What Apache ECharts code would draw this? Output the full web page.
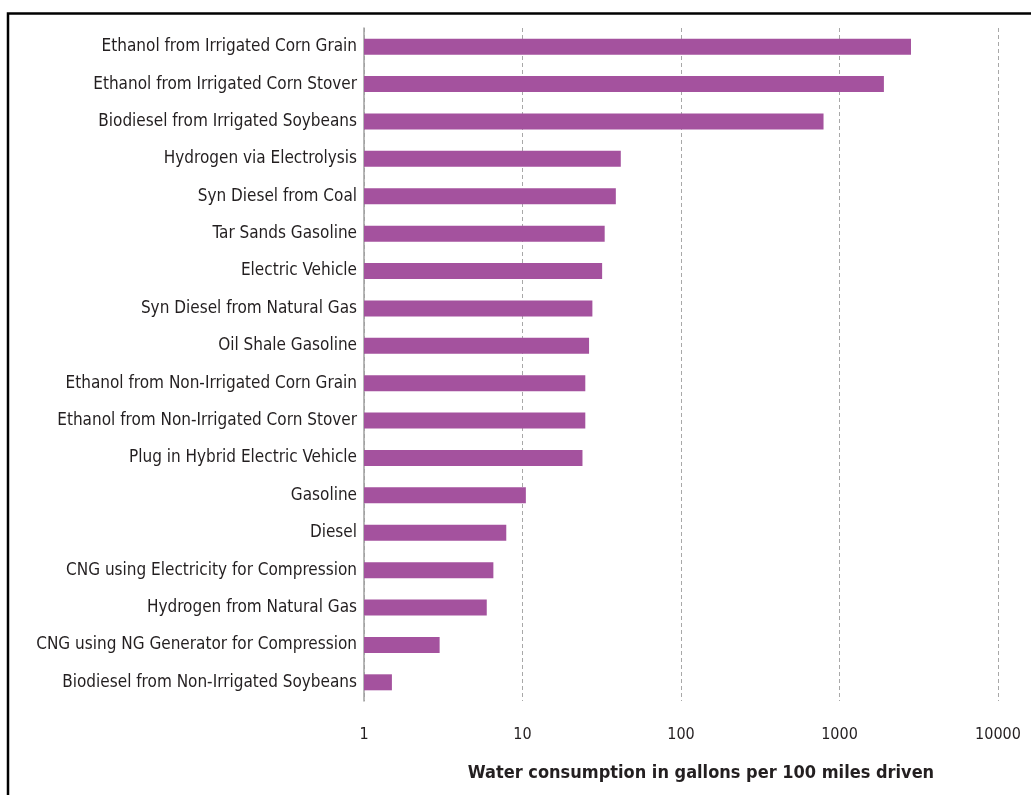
<!DOCTYPE html>
<html>
<head>
<meta charset="utf-8">
<script src="https://cdn.jsdelivr.net/npm/echarts@6/dist/echarts.min.js"></script>
<style>html,body{margin:0;padding:0;background:#fff;}#c{width:1031px;height:795px;}</style>
</head>
<body>
<div id="c"></div>
<script>
const categories = [
  "Ethanol from Irrigated Corn Grain",
  "Ethanol from Irrigated Corn Stover",
  "Biodiesel from Irrigated Soybeans",
  "Hydrogen via Electrolysis",
  "Syn Diesel from Coal",
  "Tar Sands Gasoline",
  "Electric Vehicle",
  "Syn Diesel from Natural Gas",
  "Oil Shale Gasoline",
  "Ethanol from Non-Irrigated Corn Grain",
  "Ethanol from Non-Irrigated Corn Stover",
  "Plug in Hybrid Electric Vehicle",
  "Gasoline",
  "Diesel",
  "CNG using Electricity for Compression",
  "Hydrogen from Natural Gas",
  "CNG using NG Generator for Compression",
  "Biodiesel from Non-Irrigated Soybeans"
];
const waterUse = [2825, 1906, 793, 41.7, 38.8, 33.0, 31.8, 27.6, 26.3, 24.9, 24.9, 23.9, 10.5, 7.9, 6.55, 5.95, 3.0, 1.5];
const xTicks = [1, 10, 100, 1000, 10000];
const xTitle = "Water consumption in gallons per 100 miles driven";

const font = "'Liberation Sans Narrow', 'DejaVu Sans Condensed', 'Noto Sans', sans-serif";
const chart = echarts.init(document.getElementById('c'), null, {renderer: 'canvas'});
chart.setOption({
  animation: false,
  backgroundColor: '#ffffff',
  grid: {left: 364, right: 33, top: 28, bottom: 94, containLabel: false},
  xAxis: {
    type: 'log',
    logBase: 10,
    min: xTicks[0],
    max: xTicks[xTicks.length - 1],
    axisLine: {show: false},
    axisTick: {show: false},
    splitLine: {show: true, lineStyle: {color: '#a8a8a8', type: [4, 3], width: 1}},
    axisLabel: {
      margin: 26, color: '#231f20', fontSize: 16, fontFamily: font,
      formatter: v => String(Math.round(v))
    },
    name: xTitle,
    nameLocation: 'middle',
    nameGap: 63,
    nameTextStyle: {fontSize: 18, fontWeight: 'bold', color: '#231f20', fontFamily: font, padding: [0, 0, 0, 40]}
  },
  yAxis: {
    type: 'category',
    data: categories,
    inverse: true,
    axisLine: {show: true, lineStyle: {color: '#a0a0a0', width: 1.5}},
    axisTick: {show: false},
    splitLine: {show: false},
    axisLabel: {margin: 7, color: '#231f20', fontSize: 17, fontFamily: font}
  },
  series: [{
    type: 'bar',
    data: waterUse,
    barWidth: 16,
    itemStyle: {color: '#a4529e'},
    z: 3
  }],
  graphic: [{
    type: 'polyline',
    shape: {points: [[8, 800], [8, 13.5], [1040, 13.5]]},
    style: {stroke: '#000', lineWidth: 2.5, fill: null},
    z: 10
  }]
});
</script>
</body>
</html>
